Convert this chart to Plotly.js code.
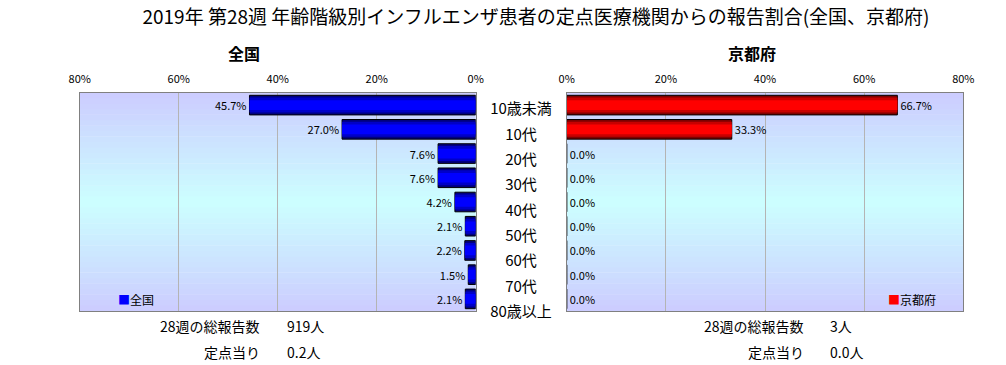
<!DOCTYPE html>
<html><head><meta charset="utf-8">
<script src="https://cdn.plot.ly/plotly-3.0.1.min.js"></script>
<style>html,body{margin:0;padding:0;background:#fff}#chart{width:1006px;height:365px}</style>
</head><body><div id="chart"></div>
<script>
const categories = ['10歳未満','10代','20代','30代','40代','50代','60代','70代','80歳以上'];
const zenkokuValues = [45.7, 27.0, 7.6, 7.6, 4.2, 2.1, 2.2, 1.5, 2.1];
const kyotoValues = [66.7, 33.3, 0.0, 0.0, 0.0, 0.0, 0.0, 0.0, 0.0];
const tickValues = [0, 20, 40, 60, 80];
const tickLabels = ['0%', '20%', '40%', '60%', '80%'];
const chartTitle = '2019年 第28週 年齢階級別インフルエンザ患者の定点医療機関からの報告割合(全国、京都府)';
const panelTitles = ['全国', '京都府'];
const summaryLabels = ['28週の総報告数', '定点当り'];
const zenkokuSummary = ['919人', '0.2人'];
const kyotoSummary = ['3人', '0.0人'];

const FONT = "'Noto Sans CJK JP', 'Noto Sans', sans-serif";
const H = 365, W = 1006;
const py = px => 1 - px / H;
const pxX = px => px / W;

function layers(vals, xa, ya, colors, name) {
  const widths = [0.81, 0.62, 0.40];
  return colors.map((c, i) => ({
    type: 'bar', orientation: 'h', x: vals, y: categories, xaxis: xa, yaxis: ya,
    width: widths[i], name: name, showlegend: false, hoverinfo: i === 0 ? 'x+y' : 'skip',
    marker: {color: c, line: {color: '#000', width: i === 0 ? 1 : 0}},
    text: i === 0 ? vals.map(v => v.toFixed(1) + '%') : undefined,
    textposition: i === 0 ? 'outside' : 'none',
    textfont: {family: FONT, size: 11, color: '#000'},
    cliponaxis: false
  }));
}

const traces = [
  ...layers(zenkokuValues, 'x', 'y', ['#000080', '#0000c8', '#0000ff'], '全国'),
  ...layers(kyotoValues, 'x2', 'y2', ['#800000', '#c80000', '#ff0000'], '京都府'),
  {type: 'scatter', mode: 'text', x: categories.map(() => 0), y: categories, text: categories,
   xaxis: 'x3', yaxis: 'y3', textposition: 'middle center', showlegend: false, hoverinfo: 'skip',
   textfont: {family: FONT, size: 15, color: '#000'}, cliponaxis: false}
];

// background gradient stripes
const shapes = [];
const N = 40;
['x', 'x2'].forEach((xa, k) => {
  const ya = k === 0 ? 'y' : 'y2';
  for (let i = 0; i < N; i++) {
    const t = (i + 0.5) / N;
    const d = Math.abs(t - 0.5) * 2;
    const g = Math.round(255 - 51 * d);
    shapes.push({type: 'rect', xref: xa + ' domain', yref: ya + ' domain', x0: 0, x1: 1,
      y0: i / N, y1: (i + 1) / N + 0.002, fillcolor: `rgb(204,${g},255)`, line: {width: 0}, layer: 'below'});
  }
});

const axX = (range, dom) => ({
  domain: dom, range: range, side: 'top', tickvals: tickValues, ticktext: tickLabels,
  showgrid: true, gridcolor: '#b4b4b4', gridwidth: 1, zeroline: false, showline: true, mirror: true,
  linecolor: '#808080', linewidth: 1, ticks: '', ticklabelstandoff: 5,
  tickfont: {family: FONT, size: 11, color: '#000'}, fixedrange: true
});
const axY = (anchor) => ({
  domain: [py(311), py(93)], type: 'category', categoryarray: categories, autorange: 'reversed',
  showticklabels: false, showgrid: false, zeroline: false, showline: true, mirror: true,
  linecolor: '#808080', linewidth: 1, ticks: '', anchor: anchor, fixedrange: true
});

const ann = [];
ann.push({text: panelTitles[0], x: pxX(244), y: py(53), xref: 'paper', yref: 'paper', showarrow: false,
  xanchor: 'center', yanchor: 'middle', font: {family: FONT, size: 16, color: '#000', weight: 'bold'}});
ann.push({text: panelTitles[1], x: pxX(752), y: py(53), xref: 'paper', yref: 'paper', showarrow: false,
  xanchor: 'center', yanchor: 'middle', font: {family: FONT, size: 16, color: '#000', weight: 'bold'}});
const rows = [326, 352];
summaryLabels.forEach((lab, i) => {
  ann.push({text: lab, x: pxX(262), y: py(rows[i]), xref: 'paper', yref: 'paper', showarrow: false,
    xanchor: 'right', yanchor: 'middle', font: {family: FONT, size: 14, color: '#000'}});
  ann.push({text: zenkokuSummary[i], x: pxX(285), y: py(rows[i]), xref: 'paper', yref: 'paper', showarrow: false,
    xanchor: 'left', yanchor: 'middle', font: {family: FONT, size: 14, color: '#000'}});
  ann.push({text: lab, x: pxX(806), y: py(rows[i]), xref: 'paper', yref: 'paper', showarrow: false,
    xanchor: 'right', yanchor: 'middle', font: {family: FONT, size: 14, color: '#000'}});
  ann.push({text: kyotoSummary[i], x: pxX(828), y: py(rows[i]), xref: 'paper', yref: 'paper', showarrow: false,
    xanchor: 'left', yanchor: 'middle', font: {family: FONT, size: 14, color: '#000'}});
});
// legends
ann.push({text: '<span style="color:#0000ff">■</span>' + panelTitles[0], x: pxX(116), y: py(299), xref: 'paper', yref: 'paper',
  showarrow: false, xanchor: 'left', yanchor: 'middle', font: {family: FONT, size: 12, color: '#000'}});
ann.push({text: '<span style="color:#ff0000">■</span>' + panelTitles[1], x: pxX(886), y: py(299), xref: 'paper', yref: 'paper',
  showarrow: false, xanchor: 'left', yanchor: 'middle', font: {family: FONT, size: 12, color: '#000'}});

const layout = {
  width: W, height: H, margin: {l: 0, r: 0, t: 0, b: 0},
  paper_bgcolor: '#fff', plot_bgcolor: 'rgba(0,0,0,0)',
  font: {family: FONT, color: '#000'},
  title: {text: chartTitle, x: pxX(536), xanchor: 'center', y: py(17), yanchor: 'middle', yref: 'paper',
    font: {family: FONT, size: 19, color: '#000'}},
  barmode: 'overlay', showlegend: false,
  xaxis: Object.assign(axX([80, 0], [pxX(79.7), pxX(475.7)]), {anchor: 'y'}),
  yaxis: axY('x'),
  xaxis2: Object.assign(axX([0, 80], [pxX(566.7), pxX(963.3)]), {anchor: 'y2'}),
  yaxis2: axY('x2'),
  xaxis3: {domain: [pxX(476), pxX(566)], range: [-1, 1], visible: false, anchor: 'y3', fixedrange: true},
  yaxis3: {domain: [py(324.8), py(99.2)], type: 'category', categoryarray: categories, autorange: 'reversed',
    visible: false, anchor: 'x3', fixedrange: true},
  shapes: shapes, annotations: ann
};

Plotly.newPlot('chart', traces, layout, {displayModeBar: false, staticPlot: true});
</script></body></html>
